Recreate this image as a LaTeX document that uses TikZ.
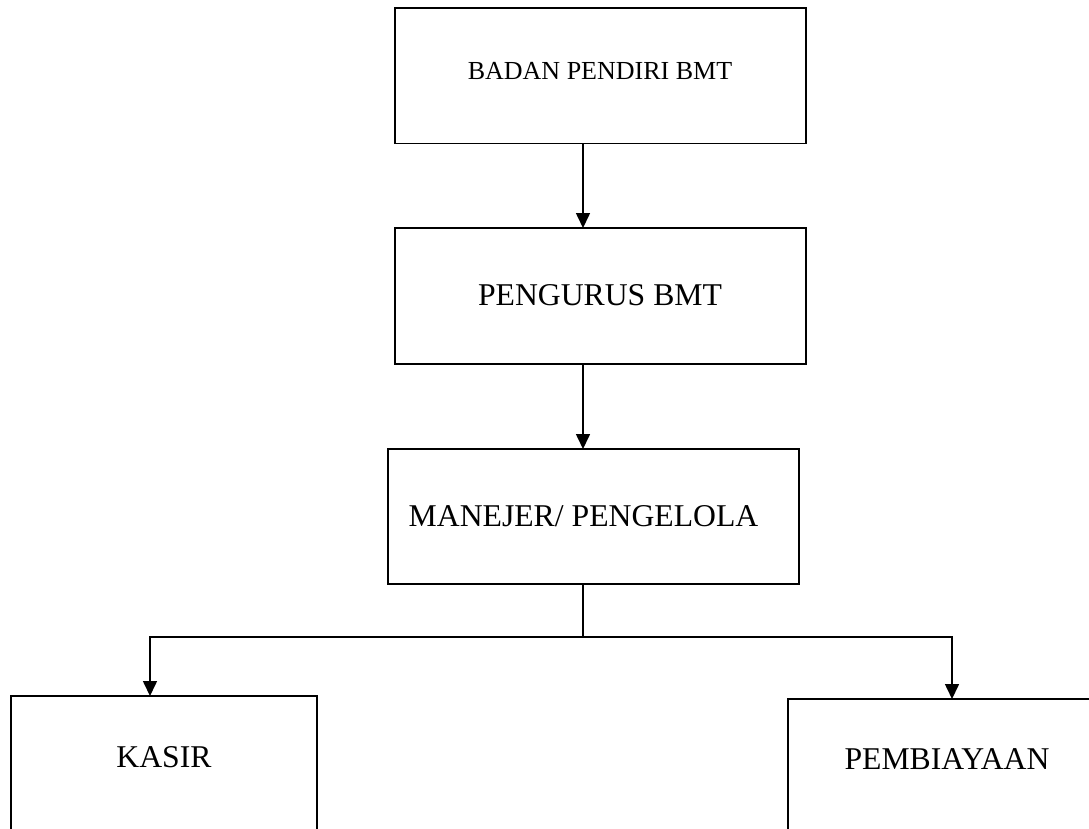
\documentclass[tikz,border=0pt]{standalone}
\usepackage{fontspec}
\setmainfont{Liberation Serif}
\usetikzlibrary{arrows.meta}
\begin{document}
\begin{tikzpicture}[x=1pt,y=-1pt,
  box/.style={draw=black,line width=1.6pt,fill=white,inner sep=0pt,outer sep=0pt},
  txt/.style={inner sep=0pt,anchor=base,font=\fontsize{31.7}{34}\selectfont},
  arr/.style={line width=1.6pt,-{Triangle[length=15pt,width=14pt]}},
  ln/.style={line width=1.6pt}]
\useasboundingbox (0,0) rectangle (1089,829);
\clip (0,0) rectangle (1089,829);
\fill[white] (0,0) rectangle (1089,829);
\coordinate (spine) at (583,0);
\coordinate (kx) at (150,637);
\coordinate (px) at (952,637);
\coordinate (j) at (583,637);
\node[box,minimum width=411pt,minimum height=135.5pt] (b1) at (600.5,75.75) {};
\node[box,minimum width=411pt,minimum height=136pt] (b2) at (600.5,296) {};
\node[box,minimum width=411.3pt,minimum height=135pt] (b3) at (593.35,516.5) {};
\node[box,minimum width=305.7pt,minimum height=250pt] (b4) at (163.85,821) {};
\node[box,minimum width=340pt,minimum height=250pt] (b5) at (958,824) {};
\node[txt,font=\fontsize{26}{28}\selectfont] (t1) at (600,80) {BADAN PENDIRI BMT};
\node[txt] (t2) at (600,305) {PENGURUS BMT};
\node[txt] (t3) at (583.5,526) {MANEJER/ PENGELOLA};
\node[txt] (t4) at (164,767) {KASIR};
\node[txt] (t5) at (947,769) {PEMBIAYAAN};
\draw[arr] (b1.south -| spine) -- (b2.north -| spine);
\draw[arr] (b2.south -| spine) -- (b3.north -| spine);
\draw[ln] (b3.south -| spine) -- (j);
\draw[arr] (j) -| (b4.north -| kx);
\draw[arr] (j) -| (b5.north -| px);
\end{tikzpicture}
\end{document}
